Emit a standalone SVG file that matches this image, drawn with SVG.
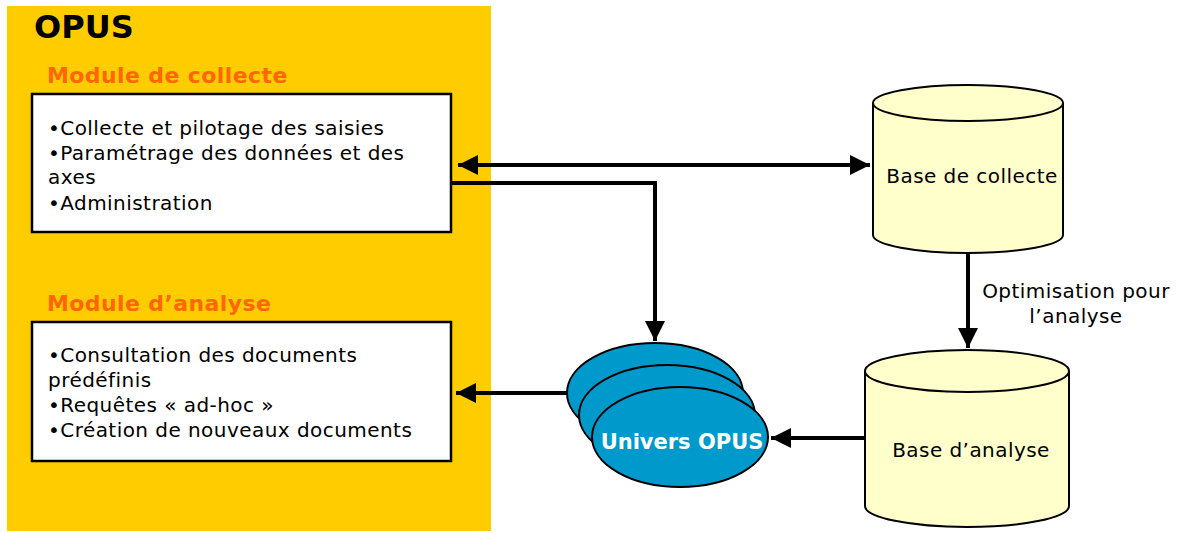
<svg xmlns="http://www.w3.org/2000/svg" width="1178" height="533" viewBox="0 0 1178 533">
<defs>
<style>
text{font-family:"DejaVu Sans","Verdana",sans-serif;}
.t{font-size:20px;letter-spacing:0.45px;fill:#000;}
.h{font-size:22px;letter-spacing:0.4px;font-weight:bold;fill:#FF6600;}
.box{fill:#fff;stroke:#000;stroke-width:2.5;}
.cyl{fill:#FFFFCC;stroke:#000;stroke-width:2;}
.ell{fill:#0099CC;stroke:#000;stroke-width:2;}
.c{fill:none;stroke:#000;stroke-width:4;}
</style>
<marker id="ah" viewBox="0 0 10 10" refX="10" refY="5" markerWidth="5" markerHeight="5" markerUnits="strokeWidth" orient="auto-start-reverse">
<path d="M0,0 L10,5 L0,10 z" fill="#000"/>
</marker>
</defs>
<rect width="1178" height="533" fill="#fff"/>
<g id="opus">
<rect x="7" y="6" width="484" height="525" fill="#FFCC00"/>
<text x="34" y="38" style="font-size:32px;font-weight:bold;">OPUS</text>
</g>
<g id="module-collecte">
<text class="h" x="47" y="83">Module de collecte</text>
<rect class="box" x="32" y="94" width="419" height="138"/>
<text class="t" x="48" y="135">•Collecte et pilotage des saisies</text>
<text class="t" x="48" y="160">•Paramétrage des données et des</text>
<text class="t" x="48" y="184">axes</text>
<text class="t" x="48" y="210">•Administration</text>
</g>
<g id="module-analyse">
<text class="h" x="47" y="311">Module d’analyse</text>
<rect class="box" x="32" y="322" width="419" height="139"/>
<text class="t" x="48" y="362">•Consultation des documents</text>
<text class="t" x="48" y="387">prédéfinis</text>
<text class="t" x="48" y="412">•Requêtes « ad-hoc »</text>
<text class="t" x="48" y="437">•Création de nouveaux documents</text>
</g>
<g id="base-collecte">
<path class="cyl" d="M873,103 L873,235 A95,18 0 0 0 1063,235 L1063,103"/>
<ellipse class="cyl" cx="968" cy="103" rx="95" ry="18"/>
<text class="t" x="972" y="183" text-anchor="middle">Base de collecte</text>
</g>
<g id="base-analyse">
<path class="cyl" d="M865,371 L865,506 A102,21 0 0 0 1069,506 L1069,371"/>
<ellipse class="cyl" cx="967" cy="371" rx="102" ry="21"/>
<text class="t" x="971" y="457" text-anchor="middle">Base d’analyse</text>
</g>
<g id="univers-opus">
<ellipse class="ell" cx="655" cy="393" rx="88" ry="50"/>
<ellipse class="ell" cx="667" cy="415" rx="88" ry="50"/>
<ellipse class="ell" cx="680" cy="437" rx="88" ry="50"/>
<text x="682" y="449" text-anchor="middle" style="font-size:21px;font-weight:bold;fill:#fff;">Univers OPUS</text>
</g>
<g id="connectors">
<line class="c" x1="458" y1="165" x2="870" y2="165" marker-start="url(#ah)" marker-end="url(#ah)"/>
<polyline class="c" points="451,183 655,183 655,341" marker-end="url(#ah)"/>
<line class="c" x1="567" y1="393" x2="456" y2="393" marker-end="url(#ah)"/>
<line class="c" x1="865" y1="438" x2="771" y2="438" marker-end="url(#ah)"/>
<line class="c" x1="968" y1="253" x2="968" y2="348" marker-end="url(#ah)"/>
<text class="t" x="1076" y="298" text-anchor="middle">Optimisation pour</text>
<text class="t" x="1076" y="323" text-anchor="middle">l’analyse</text>
</g>
</svg>
